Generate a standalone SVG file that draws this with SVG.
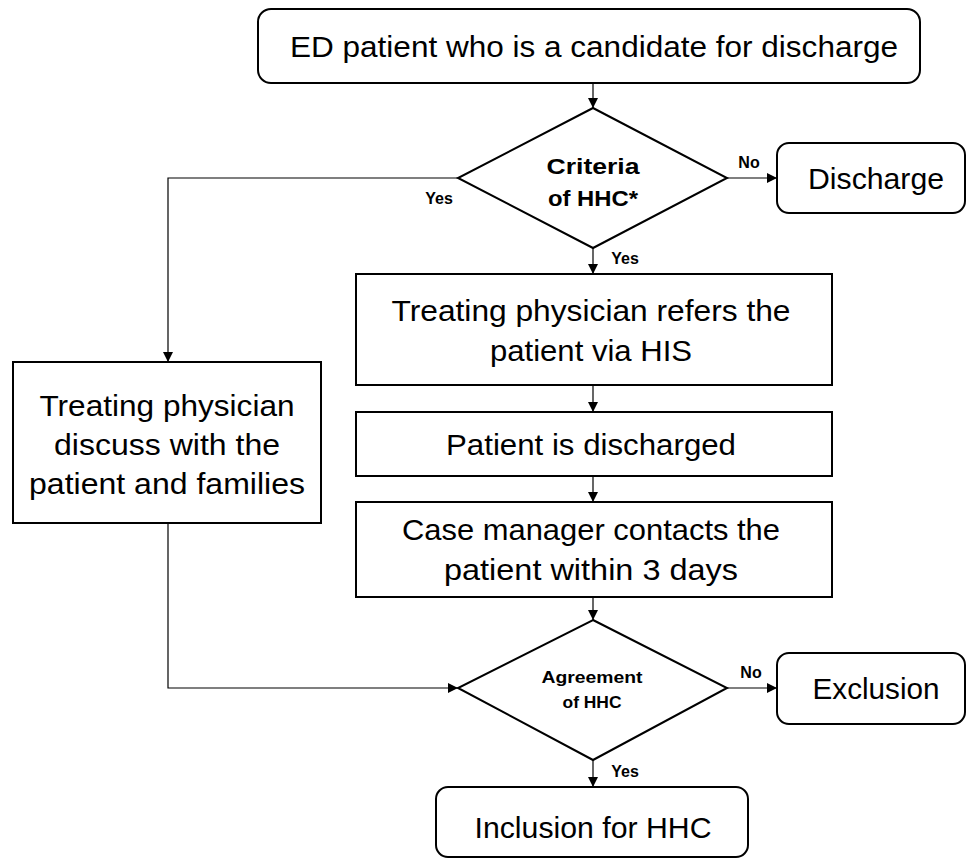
<svg xmlns="http://www.w3.org/2000/svg" width="968" height="859" viewBox="0 0 968 859">
<style>
.box{fill:#fff;stroke:#000;stroke-width:2}
.t{font-family:"Liberation Sans",Arial,sans-serif;font-size:30px;fill:#000;text-anchor:middle}
.b{font-family:"Liberation Sans",Arial,sans-serif;font-weight:bold;fill:#000;text-anchor:middle}
.c{fill:none;stroke:#000;stroke-width:1.2}
</style>
<defs>
<marker id="ah" viewBox="0 0 10 10" refX="10" refY="5" markerWidth="10" markerHeight="10" markerUnits="userSpaceOnUse" orient="auto">
<path d="M0,0 L10,5 L0,10 Z" fill="#000"/>
</marker>
</defs>
<rect width="968" height="859" fill="#fff"/>
<g id="connectors">
<line class="c" x1="593" y1="83" x2="593" y2="108" marker-end="url(#ah)"/>
<line class="c" x1="727" y1="178" x2="777" y2="178" marker-end="url(#ah)"/>
<polyline class="c" points="458,178 168,178 168,362" marker-end="url(#ah)"/>
<line class="c" x1="593" y1="248" x2="593" y2="274" marker-end="url(#ah)"/>
<line class="c" x1="593" y1="385" x2="593" y2="412" marker-end="url(#ah)"/>
<line class="c" x1="593" y1="476" x2="593" y2="502" marker-end="url(#ah)"/>
<line class="c" x1="593" y1="597" x2="593" y2="620" marker-end="url(#ah)"/>
<polyline class="c" points="168,523 168,688 458,688" marker-end="url(#ah)"/>
<line class="c" x1="727" y1="688" x2="777" y2="688" marker-end="url(#ah)"/>
<line class="c" x1="593" y1="760" x2="593" y2="787" marker-end="url(#ah)"/>
<text class="b" x="749" y="168" font-size="16">No</text>
<text class="b" x="439" y="204" font-size="16">Yes</text>
<text class="b" x="625" y="264" font-size="16">Yes</text>
<text class="b" x="751" y="678" font-size="16">No</text>
<text class="b" x="625" y="777" font-size="16">Yes</text>
</g>
<g id="start">
<rect class="box" x="258" y="9" width="662" height="74" rx="13"/>
<text class="t" x="594" y="57" textLength="608" lengthAdjust="spacingAndGlyphs">ED patient who is a candidate for discharge</text>
</g>
<g id="criteria">
<polygon class="box" points="593,108 727,178 593,248 458,178"/>
<text class="b" x="593" y="174" font-size="22" textLength="93" lengthAdjust="spacingAndGlyphs">Criteria</text>
<text class="b" x="593" y="206" font-size="22" textLength="90" lengthAdjust="spacingAndGlyphs">of HHC*</text>
</g>
<g id="discharge">
<rect class="box" x="777" y="143" width="188" height="70" rx="12"/>
<text class="t" x="876" y="189" textLength="136" lengthAdjust="spacingAndGlyphs">Discharge</text>
</g>
<g id="discuss">
<rect class="box" x="13" y="362" width="308" height="161"/>
<text class="t" x="167" y="416" textLength="255" lengthAdjust="spacingAndGlyphs">Treating physician</text>
<text class="t" x="167" y="455" textLength="226" lengthAdjust="spacingAndGlyphs">discuss with the</text>
<text class="t" x="167" y="494" textLength="276" lengthAdjust="spacingAndGlyphs">patient and families</text>
</g>
<g id="refer">
<rect class="box" x="356" y="274" width="476" height="111"/>
<text class="t" x="591" y="321" textLength="399" lengthAdjust="spacingAndGlyphs">Treating physician refers the</text>
<text class="t" x="591" y="361" textLength="202" lengthAdjust="spacingAndGlyphs">patient via HIS</text>
</g>
<g id="discharged">
<rect class="box" x="356" y="412" width="476" height="64"/>
<text class="t" x="591" y="455" textLength="290" lengthAdjust="spacingAndGlyphs">Patient is discharged</text>
</g>
<g id="contact">
<rect class="box" x="356" y="502" width="476" height="95"/>
<text class="t" x="591" y="540" textLength="378" lengthAdjust="spacingAndGlyphs">Case manager contacts the</text>
<text class="t" x="591" y="580" textLength="294" lengthAdjust="spacingAndGlyphs">patient within 3 days</text>
</g>
<g id="agreement">
<polygon class="box" points="593,620 727,688 593,760 458,688"/>
<text class="b" x="592" y="683" font-size="16" textLength="101" lengthAdjust="spacingAndGlyphs">Agreement</text>
<text class="b" x="592" y="708" font-size="16" textLength="59" lengthAdjust="spacingAndGlyphs">of HHC</text>
</g>
<g id="exclusion">
<rect class="box" x="777" y="653" width="188" height="71" rx="12"/>
<text class="t" x="876" y="699" textLength="127" lengthAdjust="spacingAndGlyphs">Exclusion</text>
</g>
<g id="inclusion">
<rect class="box" x="436" y="787" width="312" height="70" rx="12"/>
<text class="t" x="593" y="838" textLength="237" lengthAdjust="spacingAndGlyphs">Inclusion for HHC</text>
</g>
</svg>
